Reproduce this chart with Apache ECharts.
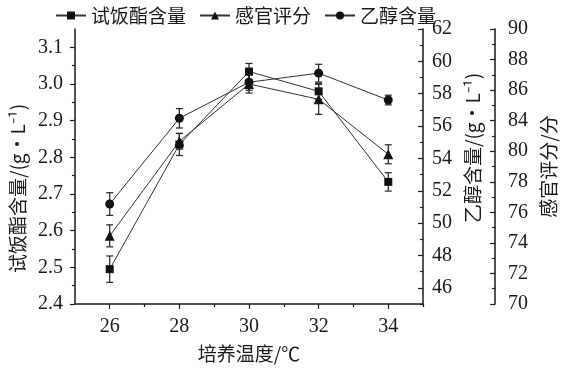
<!DOCTYPE html>
<html><head><meta charset="utf-8">
<script src="https://cdn.jsdelivr.net/npm/echarts@6/dist/echarts.min.js"></script>
<style>html,body{margin:0;padding:0;background:#fff}#c{width:566px;height:370px}</style>
</head><body><div id="c"></div>
<script>
// ---- data ----
const temps = [26, 28, 30, 32, 34];
const esterName = '试饭酯含量';
const senseName = '感官评分';
const ethanolName = '乙醇含量';
const esterVals = [2.495, 2.835, 3.034, 2.98, 2.733];
const esterErr = [0.036, 0.03, 0.022, 0.022, 0.025];
// sensory axis as printed: evenly spaced ticks labelled 70..80 then 84..90 (82 is skipped)
const senseVals = [74.46, 80.65, 84.4, 83.4, 79.8];
const senseErr = [0.72, 0.52, 0.59, 0.98, 0.62];
const ethanolVals = [51.18, 56.48, 58.71, 59.27, 57.61];
const ethanolErr = [0.7, 0.6, 0.5, 0.55, 0.3];
const xTicks = [26, 28, 30, 32, 34];
const xMinor = [27, 29, 31, 33, 35];
const esterTicks = [2.4, 2.5, 2.6, 2.7, 2.8, 2.9, 3.0, 3.1];
const esterMinor = [2.45, 2.55, 2.65, 2.75, 2.85, 2.95, 3.05];
const ethanolTicks = [46, 48, 50, 52, 54, 56, 58, 60, 62];
const ethanolMinor = [45, 47, 49, 51, 53, 55, 57, 59, 61];
const senseTickLabels = ['70', '72', '74', '76', '78', '80', '84', '86', '88', '90'];

const serif = '"Liberation Serif","Noto Sans CJK SC",serif';
const cjk = '"Noto Sans CJK SC","Liberation Serif",sans-serif';
const ink = '#1a1a1a';

function errData(vals, errs) { return temps.map((t, i) => [t, vals[i] - errs[i], vals[i] + errs[i]]); }
function errSeries(vals, errs, yIdx) {
  return {
    type: 'custom', yAxisIndex: yIdx, z: 3, silent: true,
    encode: { x: 0, y: [1, 2] },
    data: errData(vals, errs),
    renderItem: function (params, api) {
      const x = api.value(0);
      const a = api.coord([x, api.value(1)]);
      const b = api.coord([x, api.value(2)]);
      const w = 3.5, st = { stroke: '#222', lineWidth: 1.2 };
      return { type: 'group', children: [
        { type: 'line', shape: { x1: a[0], y1: a[1], x2: b[0], y2: b[1] }, style: st },
        { type: 'line', shape: { x1: a[0] - w, y1: a[1], x2: a[0] + w, y2: a[1] }, style: st },
        { type: 'line', shape: { x1: b[0] - w, y1: b[1], x2: b[0] + w, y2: b[1] }, style: st }
      ]};
    }
  };
}
const lineStyle = { color: '#333', width: 1 };
const hidden = { axisLine: { show: false }, axisLabel: { show: false }, splitLine: { show: false } };

const chart = echarts.init(document.getElementById('c'));
chart.setOption({
  animation: false,
  backgroundColor: '#fff',
  legend: {
    data: [esterName, senseName, ethanolName],
    top: 1, left: 50, itemWidth: 30, itemHeight: 10, itemGap: 13,
    textStyle: { fontFamily: cjk, fontSize: 19, color: ink }
  },
  grid: { left: 73, right: 137, top: 29, bottom: 66 },
  xAxis: [
    { type: 'value', min: 25, max: 35,
      name: '培养温度/℃', nameLocation: 'middle', nameGap: 40,
      nameTextStyle: { fontFamily: cjk, fontSize: 19, color: ink },
      axisLine: { lineStyle: { color: ink, width: 1.5 } },
      axisTick: { customValues: xTicks, length: 5, lineStyle: { color: ink, width: 1.2 } },
      axisLabel: { customValues: xTicks, margin: 13, fontFamily: serif, fontSize: 20, color: ink },
      splitLine: { show: false } },
    Object.assign({ type: 'value', min: 25, max: 35, position: 'bottom',
      axisTick: { customValues: xMinor, length: 3, lineStyle: { color: ink, width: 1.2 } } }, hidden)
  ],
  yAxis: [
    { type: 'value', min: 2.4, max: 3.15, position: 'left',
      name: esterName + '/(g•L⁻¹)', nameLocation: 'middle', nameGap: 43,
      nameTextStyle: { fontFamily: cjk, fontSize: 19, color: ink, padding: [0, 44, 0, 0] },
      axisLine: { show: true, lineStyle: { color: ink, width: 1.5 } },
      axisTick: { customValues: esterTicks, length: 5, lineStyle: { color: ink, width: 1.2 } },
      axisLabel: { customValues: esterTicks, margin: 12, fontFamily: serif, fontSize: 20, color: ink,
        formatter: v => v.toFixed(1) },
      splitLine: { show: false } },
    { type: 'value', min: 45, max: 62, position: 'right', offset: 0,
      name: ethanolName + '/(g•L⁻¹)', nameLocation: 'middle', nameGap: 38, nameRotate: 90,
      nameTextStyle: { fontFamily: cjk, fontSize: 19, color: ink, padding: [0, 0, 0, 37] },
      axisLine: { show: true, lineStyle: { color: ink, width: 1.5 } },
      axisTick: { inside: true, customValues: ethanolTicks, length: 5, lineStyle: { color: ink, width: 1.2 } },
      axisLabel: { customValues: ethanolTicks, margin: 9, fontFamily: serif, fontSize: 20, color: ink },
      splitLine: { show: false } },
    { type: 'value', min: 70, max: 88, interval: 2, position: 'right', offset: 72,
      name: senseName + '/分', nameLocation: 'middle', nameGap: 42, nameRotate: 90,
      nameTextStyle: { fontFamily: cjk, fontSize: 19, color: ink },
      axisLine: { show: true, lineStyle: { color: ink, width: 1.5 } },
      axisTick: { inside: true, length: 5, lineStyle: { color: ink, width: 1.2 } },
      minorTick: { show: true, splitNumber: 2, length: 3, lineStyle: { color: ink, width: 1.2 } },
      axisLabel: { margin: 13, fontFamily: serif, fontSize: 20, color: ink,
        formatter: v => senseTickLabels[Math.round((v - 70) / 2)] },
      splitLine: { show: false } },
    Object.assign({ type: 'value', min: 2.4, max: 3.15, position: 'left', offset: 0,
      axisTick: { customValues: esterMinor, length: 3, lineStyle: { color: ink, width: 1.2 } } }, hidden),
    Object.assign({ type: 'value', min: 45, max: 62, position: 'right', offset: 0,
      axisTick: { inside: true, customValues: ethanolMinor, length: 3, lineStyle: { color: ink, width: 1.2 } } }, hidden)
  ],
  series: [
    { name: esterName, type: 'line', yAxisIndex: 0, z: 4,
      data: temps.map((t, i) => [t, esterVals[i]]),
      symbol: 'rect', symbolSize: 8, lineStyle: lineStyle, itemStyle: { color: '#111' } },
    { name: senseName, type: 'line', yAxisIndex: 2, z: 4,
      data: temps.map((t, i) => [t, senseVals[i]]),
      symbol: 'triangle', symbolSize: 10, lineStyle: lineStyle, itemStyle: { color: '#111' } },
    { name: ethanolName, type: 'line', yAxisIndex: 1, z: 4,
      data: temps.map((t, i) => [t, ethanolVals[i]]),
      symbol: 'circle', symbolSize: 9, lineStyle: lineStyle, itemStyle: { color: '#111' } },
    errSeries(esterVals, esterErr, 0),
    errSeries(senseVals, senseErr, 2),
    errSeries(ethanolVals, ethanolErr, 1)
  ]
});
</script></body></html>
